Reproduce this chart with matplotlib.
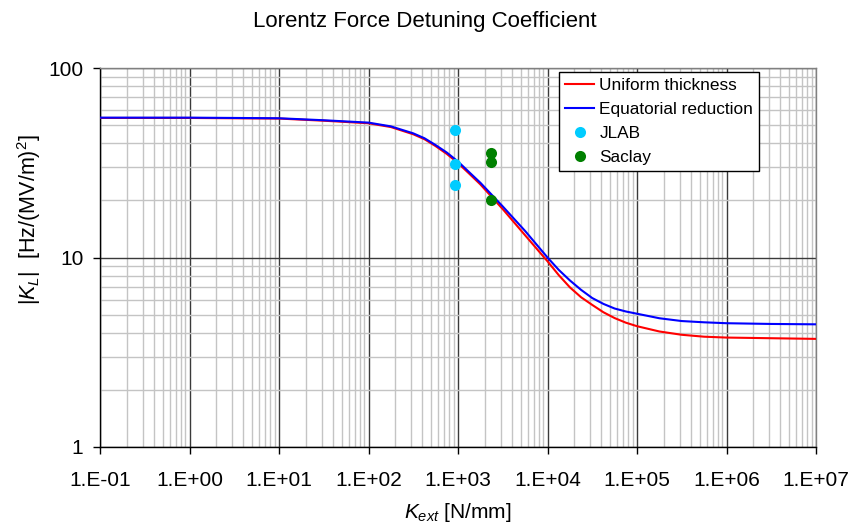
import numpy as np
import matplotlib
matplotlib.use("Agg")
import matplotlib.pyplot as plt
from matplotlib.ticker import LogLocator, FixedLocator, NullFormatter

plt.rcParams['font.family'] = ['Liberation Sans', 'DejaVu Sans']
plt.rcParams['mathtext.fontset'] = 'custom'
plt.rcParams['mathtext.rm'] = 'Liberation Sans'
plt.rcParams['mathtext.it'] = 'Liberation Sans:italic'

# log10 of external stiffness [N/mm]
log_kext = [-1, 0, 0.5, 1.0, 1.5, 2.0, 2.25, 2.5, 2.625, 2.75, 2.875, 3.0, 3.125, 3.25, 3.5, 3.75,
            4.0, 4.125, 4.25, 4.375, 4.5, 4.625, 4.75, 4.875, 5.0, 5.25, 5.5, 5.75, 6.0, 6.5, 7.0]
# |K_L| [Hz/(MV/m)^2]
uniform = [54.5, 54.5, 54.3, 54.1, 52.7, 51.1, 48.8, 44.7, 42.1, 38.7, 35.2, 31.5, 27.7, 24.3, 18.0, 13.1,
           9.55, 8.08, 6.96, 6.17, 5.62, 5.14, 4.79, 4.53, 4.34, 4.07, 3.91, 3.82, 3.78, 3.75, 3.72]
equatorial = [54.7, 54.7, 54.5, 54.3, 53.0, 51.5, 49.2, 45.2, 42.6, 39.2, 35.8, 32.1, 28.2, 24.8, 18.6, 13.8,
              10.0, 8.61, 7.57, 6.75, 6.11, 5.69, 5.38, 5.19, 5.05, 4.78, 4.62, 4.55, 4.50, 4.46, 4.44]

jlab_k = [930, 930, 930]
jlab_kl = [47.1, 31.1, 24.1]
saclay_k = [2320, 2320, 2320]
saclay_kl = [35.5, 32.0, 20.1]

xtick_labels = ["1.E-01", "1.E+00", "1.E+01", "1.E+02", "1.E+03", "1.E+04", "1.E+05", "1.E+06", "1.E+07"]
ytick_labels = ["1", "10", "100"]

kext = 10.0 ** np.array(log_kext)

fig = plt.figure(figsize=(8.5, 5.26), dpi=100)
ax = fig.add_axes([100 / 850, 1 - 447 / 526, 716 / 850, 379 / 526])

ax.plot(kext, uniform, color='#ff0000', lw=1.5, label='Uniform thickness', zorder=3)
ax.plot(kext, equatorial, color='#0000ff', lw=1.5, label='Equatorial reduction', zorder=3)
ax.plot(jlab_k, jlab_kl, 'o', color='#00ccff', ms=8, mec='none', label='JLAB', zorder=4)
ax.plot(saclay_k, saclay_kl, 'o', color='#008000', ms=8, mec='none', label='Saclay', zorder=4)

ax.set_xscale('log')
ax.set_yscale('log')
ax.set_xlim(1e-1, 1e7)
ax.set_ylim(1, 100)

xt = [10.0 ** e for e in range(-1, 8)]
ax.xaxis.set_major_locator(FixedLocator(xt))
ax.set_xticklabels(xtick_labels)
ax.yaxis.set_major_locator(FixedLocator([1, 10, 100]))
ax.set_yticklabels(ytick_labels)
ax.xaxis.set_minor_locator(LogLocator(base=10, subs=np.arange(2, 10), numticks=20))
ax.yaxis.set_minor_locator(LogLocator(base=10, subs=np.arange(2, 10), numticks=20))
ax.xaxis.set_minor_formatter(NullFormatter())
ax.yaxis.set_minor_formatter(NullFormatter())

ax.grid(which='major', color='#3a3a3a', lw=1.0)
ax.grid(which='minor', color='#c4c4c4', lw=1.0)
ax.set_axisbelow(True)
ax.tick_params(which='major', direction='out', length=5, width=1, labelsize=15)
ax.tick_params(axis='x', which='major', pad=12)
ax.tick_params(axis='y', which='major', pad=7)
ax.tick_params(which='minor', length=0)
for s in ax.spines.values():
    s.set_color('black')
    s.set_linewidth(1.0)
ax.spines['right'].set_color('#808080')
ax.spines['top'].set_color('#808080')

ax.set_xlabel(r'$K_{ext}$ [N/mm]', fontsize=15, labelpad=8)
ax.set_ylabel(r'$|K_L|$  [Hz/(MV/m)$^2$]', fontsize=15.5)
ax.yaxis.set_label_coords(-0.080, 0.60)
fig.suptitle('Lorentz Force Detuning Coefficient', fontsize=16, y=0.98)

leg = ax.legend(loc='upper right', bbox_to_anchor=(0.920, 0.9894), fontsize=12.4,
                frameon=True, fancybox=False, edgecolor='black', framealpha=1,
                handlelength=1.7, handletextpad=0.3, borderpad=0.32, labelspacing=0.53,
                borderaxespad=0)
leg.get_frame().set_linewidth(1.0)

fig.savefig('out.png', dpi=100)
